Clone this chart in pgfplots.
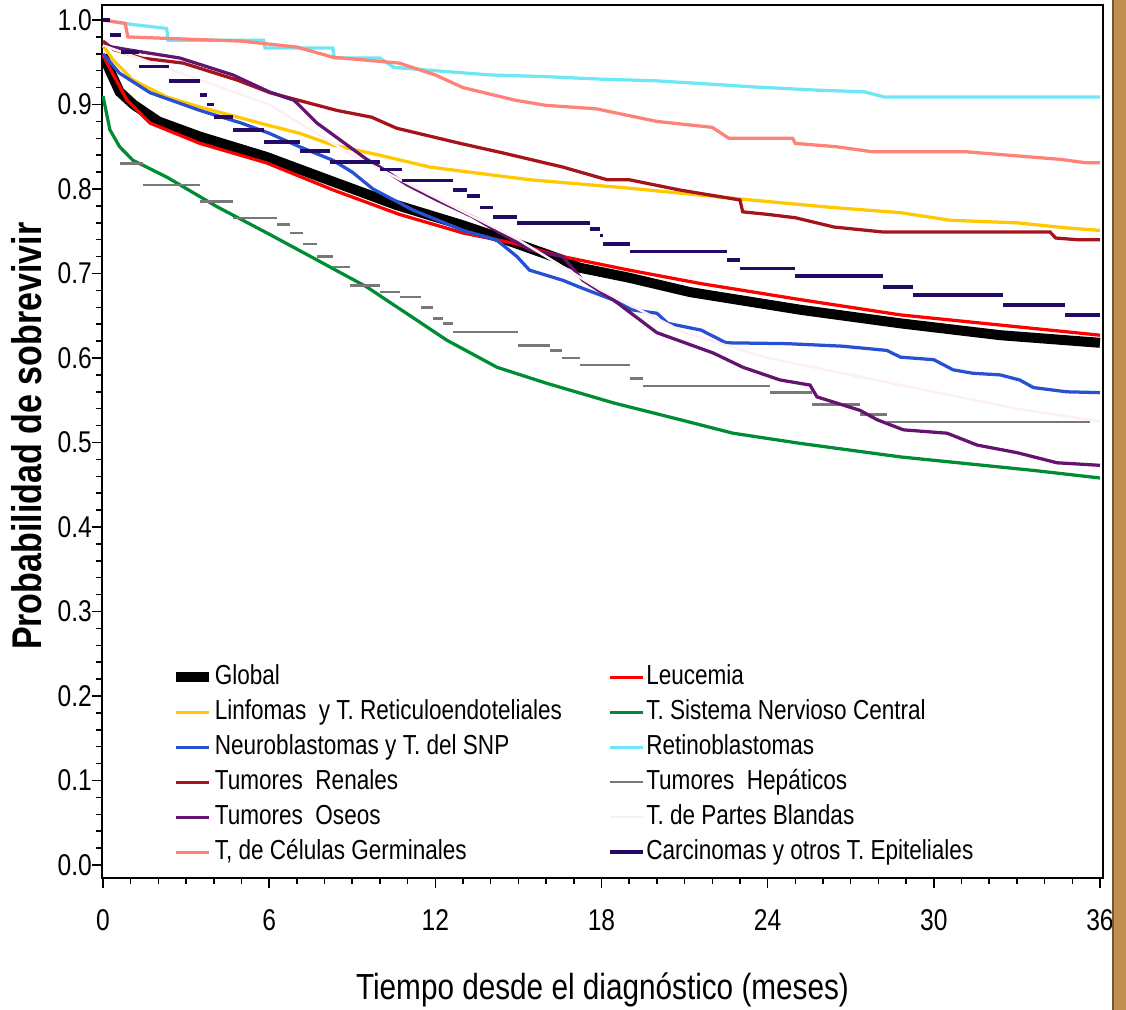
\documentclass[border=0pt]{standalone}
\usepackage{fontspec}
\setmainfont{Liberation Sans}[FakeStretch=0.82]
\usepackage{pgfplots}
\pgfplotsset{compat=1.18}
\definecolor{cleuc}{RGB}{255,0,0}
\definecolor{clinf}{RGB}{255,200,0}
\definecolor{csnc}{RGB}{0,140,50}
\definecolor{cneuro}{RGB}{40,80,210}
\definecolor{cretino}{RGB}{110,230,245}
\definecolor{crenal}{RGB}{165,20,25}
\definecolor{chepat}{RGB}{120,120,120}
\definecolor{coseos}{RGB}{100,20,110}
\definecolor{cbland}{RGB}{253,240,245}
\definecolor{cgerm}{RGB}{255,130,120}
\definecolor{ccarc}{RGB}{35,10,100}
\definecolor{cwood}{RGB}{192,142,78}
\begin{document}
\begin{tikzpicture}
\path[use as bounding box] (-40.8pt,-52.8pt) rectangle (409.6pt,351.2pt);
\begin{axis}[
  scale only axis, width=400.4pt, height=349.2pt,
  xmin=-0.036, xmax=36.11, ymin=-0.0154, ymax=1.0178,
  xtick={0,6,...,36}, minor x tick num=5,
  ytick={0,0.1,0.2,0.3,0.4,0.5,0.6,0.7,0.8,0.9,1.0}, minor y tick num=4,
  tick align=outside, tick pos=left,
  major tick length=4pt, minor tick length=2.4pt,
  tick style={black, line width=0.6pt},
  yticklabel style={xshift=3.5pt, /pgf/number format/.cd, fixed, fixed zerofill, precision=1},
  xticklabel style={yshift=-5pt},
  /pgf/number format/assume math mode=true,
  ticklabel style={font=\fontsize{12}{14}\selectfont},
  axis line style={line width=0.9pt},
  xlabel={Tiempo desde el diagnóstico (meses)},
  ylabel={Probabilidad de sobrevivir},
  xlabel style={at={(axis description cs:0.5,-0.1283)}, anchor=center, font=\fontsize{14.5}{16}\selectfont},
  ylabel style={at={(axis description cs:-0.075,0.506)}, anchor=center, font=\bfseries\fontsize{16.6}{18}\selectfont},
  legend columns=2, legend cell align=left,
  legend style={at={(axis description cs:0.0680,0.2485)}, anchor=north west, draw=none, fill=none, inner sep=0pt,
    font=\fontsize{11}{13}\selectfont, row sep=1.5pt,
    /tikz/every even column/.append style={column sep=18pt},
    nodes={inner xsep=0.5pt, inner ysep=1pt, text height=8pt, text depth=2.5pt}},
  legend image code/.code={\draw[#1] (0pt,0pt) -- (13.2pt,0pt);},
  clip=true,
]
\addplot[black, line width=4pt] coordinates {(0,0.958)(0.25,0.94)(0.6,0.915)(1.1,0.9)(2.0,0.88)(3.5,0.862)(5.9,0.838)(8.2,0.81)(10.6,0.781)(13.0,0.757)(14.8,0.737)(16.6,0.716)(17.2,0.707)(19.0,0.695)(21.2,0.678)(25.2,0.657)(28.8,0.641)(32.4,0.627)(36,0.618)};
\addlegendentry{Global}
\addplot[cleuc, line width=1.3pt] coordinates {(0,0.958)(0.87,0.905)(1.7,0.878)(3.5,0.854)(5.9,0.831)(8.3,0.799)(10.7,0.77)(13.0,0.748)(14.8,0.736)(16.6,0.72)(19.0,0.704)(21.6,0.688)(25.2,0.669)(28.8,0.651)(32.4,0.639)(36,0.627)};
\addlegendentry{Leucemia}
\addplot[clinf, line width=1.3pt] coordinates {(0,0.97)(0.36,0.953)(1.08,0.929)(2.3,0.909)(3.5,0.897)(5.9,0.876)(7.1,0.866)(8.3,0.852)(10.0,0.84)(11.8,0.826)(15.4,0.811)(19.0,0.801)(23.4,0.787)(26.4,0.778)(28.8,0.772)(30.6,0.763)(33.0,0.76)(34.8,0.754)(36,0.751)};
\addlegendentry{Linfomas\ \ y T. Reticuloendoteliales}
\addplot[csnc, line width=1.3pt] coordinates {(0,0.91)(0.25,0.87)(0.6,0.85)(1.08,0.834)(2.31,0.814)(4.12,0.779)(5.92,0.748)(7.73,0.716)(9.53,0.684)(12.42,0.621)(14.23,0.589)(16.03,0.57)(18.42,0.547)(20.84,0.527)(22.75,0.511)(25.17,0.499)(28.78,0.483)(33.59,0.467)(36,0.458)};
\addlegendentry{T. Sistema Nervioso Central}
\addplot[cneuro, line width=1.3pt] coordinates {(0,0.96)(0.6,0.937)(1.7,0.914)(3.5,0.893)(5.0,0.878)(6.0,0.866)(7.1,0.85)(8.3,0.834)(9.0,0.82)(9.75,0.8)(11.2,0.775)(13.0,0.751)(14.2,0.74)(14.95,0.72)(15.4,0.704)(16.6,0.692)(17.2,0.684)(18.4,0.669)(19.1,0.657)(20.0,0.653)(20.4,0.641)(21.6,0.633)(22.5,0.618)(24.7,0.617)(26.7,0.614)(28.3,0.609)(28.8,0.601)(30.0,0.598)(30.7,0.586)(31.4,0.582)(32.4,0.58)(33.1,0.574)(33.6,0.565)(34.8,0.56)(36,0.559)};
\addlegendentry{Neuroblastomas y T. del SNP}
\addplot[cretino, line width=1.3pt] coordinates {(0,1.0)(1,0.995)(2.3,0.99)(2.35,0.976)(5.8,0.976)(5.85,0.967)(8.3,0.967)(8.35,0.955)(10,0.955)(10.5,0.944)(12,0.94)(14,0.935)(16,0.933)(18,0.93)(20,0.928)(22,0.924)(23.4,0.921)(25.8,0.917)(27.5,0.915)(28.2,0.909)(36,0.909)};
\addlegendentry{Retinoblastomas}
\addplot[crenal, line width=1.3pt] coordinates {(0,0.975)(0.4,0.965)(1.4,0.955)(2.9,0.949)(4.84,0.929)(6.03,0.914)(8.45,0.893)(9.7,0.885)(10.6,0.872)(12.9,0.854)(14.4,0.843)(16.6,0.826)(18.2,0.811)(19.0,0.811)(20.8,0.799)(23.0,0.787)(23.1,0.773)(24.0,0.77)(25.0,0.766)(26.4,0.755)(28.2,0.749)(34.2,0.749)(34.4,0.742)(35.2,0.74)(36,0.74)};
\addlegendentry{Tumores\ \ Renales}
\addplot[chepat, line width=1pt, jump mark left] coordinates {(0.6,0.83)(1.44,0.805)(3.5,0.785)(4.69,0.766)(6.28,0.758)(6.75,0.748)(7.22,0.735)(7.73,0.72)(8.31,0.708)(8.92,0.686)(10.0,0.678)(10.73,0.672)(11.5,0.66)(11.92,0.647)(12.28,0.641)(12.64,0.631)(15.0,0.615)(16.14,0.609)(16.58,0.6)(17.23,0.592)(19.03,0.576)(19.5,0.567)(24.09,0.559)(25.6,0.545)(27.34,0.533)(28.3,0.524)(35.64,0.524)};
\addlegendentry{Tumores\ \ Hepáticos}
\addplot[coseos, line width=1.3pt] coordinates {(0,0.97)(0.87,0.965)(2.78,0.955)(4.69,0.935)(6.0,0.915)(6.9,0.905)(7.73,0.878)(8.9,0.85)(9.53,0.835)(10.0,0.826)(10.98,0.805)(12.06,0.787)(13.36,0.767)(14.34,0.748)(15.42,0.728)(16.6,0.72)(17.33,0.692)(18.42,0.669)(20.0,0.63)(22.03,0.606)(23.11,0.589)(24.45,0.574)(25.53,0.568)(25.78,0.554)(27.34,0.538)(27.95,0.527)(28.9,0.515)(30.48,0.511)(31.56,0.497)(33.0,0.488)(34.45,0.476)(36,0.473)};
\addlegendentry{Tumores\ \ Oseos}
\addplot[cbland, line width=1pt] coordinates {(0,0.97)(3,0.935)(6,0.9)(9,0.84)(12,0.79)(15,0.74)(18,0.68)(21,0.63)(24,0.6)(27,0.58)(30,0.56)(33,0.54)(36,0.525)};
\addlegendentry{T. de Partes Blandas}
\addplot[cgerm, line width=1.3pt] coordinates {(0,1.0)(0.8,0.996)(0.9,0.98)(5,0.975)(7,0.968)(8.3,0.956)(10.7,0.949)(12,0.935)(13,0.92)(14.9,0.905)(16,0.899)(17.8,0.895)(20,0.88)(22,0.873)(22.6,0.86)(24.9,0.86)(25,0.854)(26.5,0.85)(27.8,0.844)(31.2,0.844)(34.6,0.835)(35.5,0.831)(36,0.831)};
\addlegendentry{T, de Células Germinales}
\addplot[ccarc, line width=1.5pt, jump mark left] coordinates {(0,1.0)(0.25,0.982)(0.65,0.962)(1.3,0.945)(2.4,0.928)(3.5,0.911)(3.75,0.9)(4.0,0.885)(4.7,0.87)(5.8,0.856)(7.11,0.845)(8.2,0.832)(10.0,0.823)(10.8,0.81)(12.64,0.799)(13.14,0.792)(13.6,0.778)(14.08,0.767)(14.95,0.76)(17.59,0.753)(17.95,0.745)(18.06,0.735)(19.03,0.726)(22.54,0.716)(23.01,0.706)(24.99,0.697)(28.17,0.684)(29.25,0.675)(32.5,0.663)(34.74,0.651)(36,0.651)};
\addlegendentry{Carcinomas y otros T. Epiteliales}
\end{axis}
\fill[cwood] (404.4pt,-52.8pt) rectangle (409.6pt,351.2pt);
\draw[cwood!60!black, line width=0.6pt] (404.4pt,-52.8pt) -- (404.4pt,351.2pt);
\end{tikzpicture}
\end{document}
